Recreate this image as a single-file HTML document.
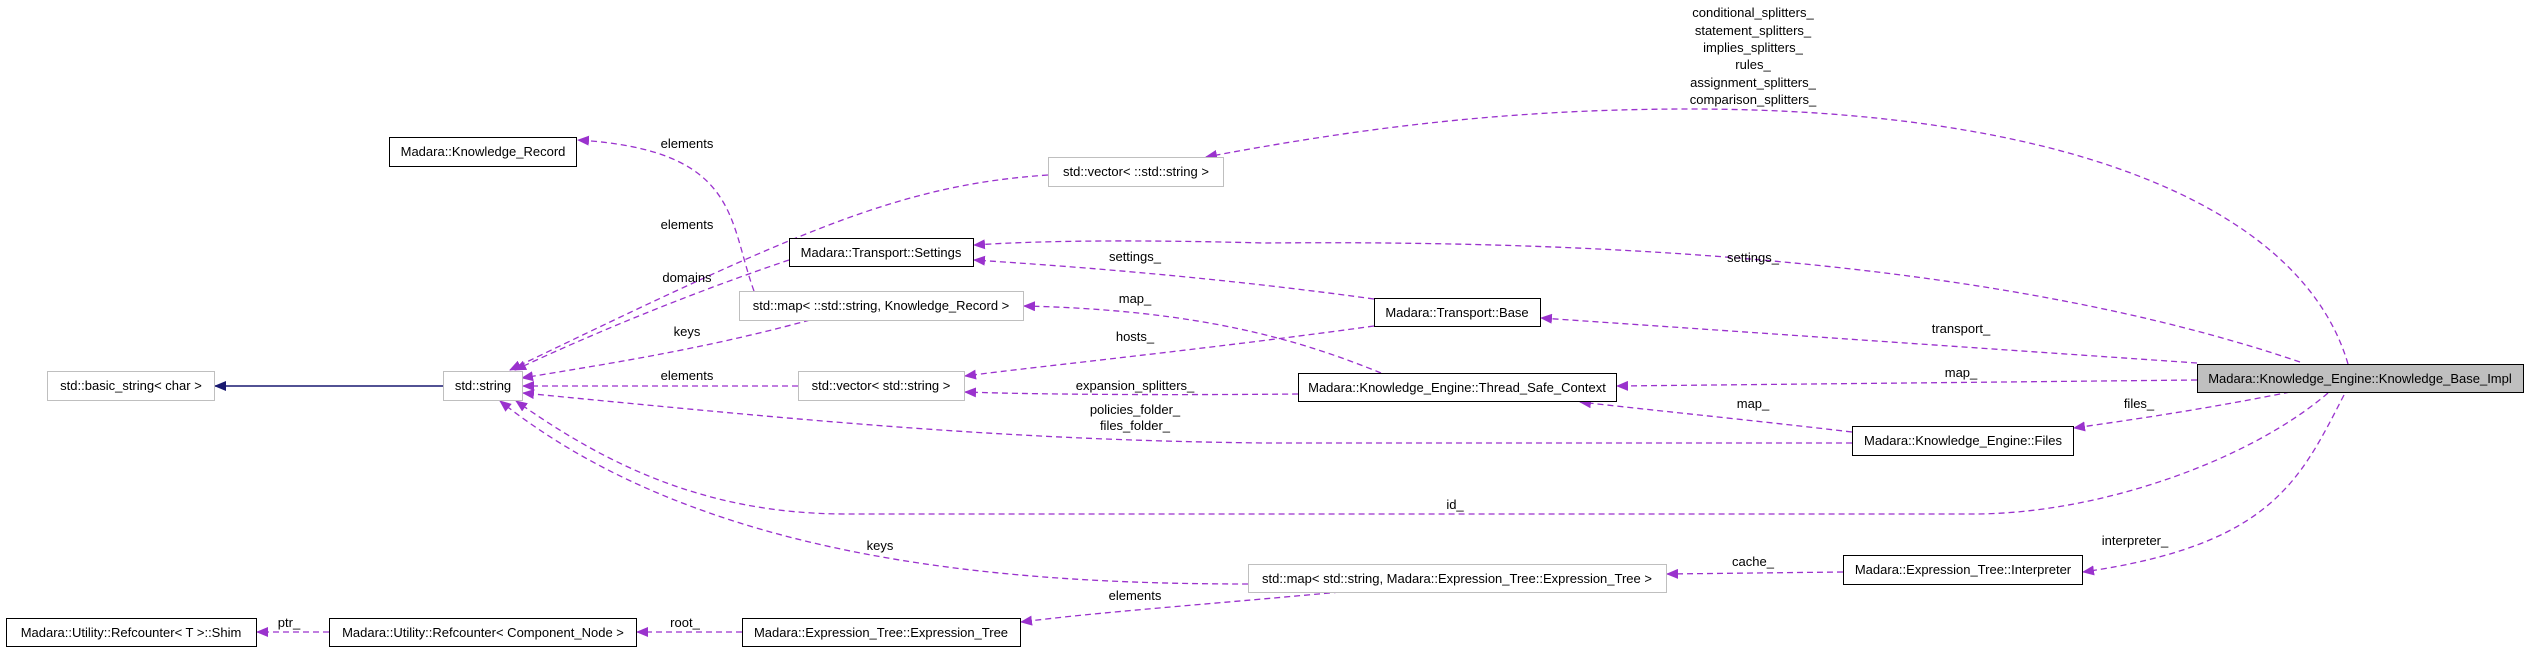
<!DOCTYPE html>
<html><head><meta charset="utf-8"><style>
html,body{margin:0;padding:0;background:#fff;}
svg{display:block;}
text{font-family:"Liberation Sans",sans-serif;font-size:13px;fill:#000;}
</style></head><body>
<svg width="2528" height="649" viewBox="0 0 2528 649" xmlns="http://www.w3.org/2000/svg">
<defs>
<marker id="a" viewBox="0 0 12 10" refX="11" refY="5" markerWidth="12" markerHeight="10" markerUnits="userSpaceOnUse" orient="auto">
<path d="M0,0 L12,5 L0,10 z" fill="#9a32cd"/></marker>
<marker id="b" viewBox="0 0 12 10" refX="11" refY="5" markerWidth="12" markerHeight="10" markerUnits="userSpaceOnUse" orient="auto">
<path d="M0,0 L12,5 L0,10 z" fill="#191970"/></marker>
</defs>
<g fill="none" stroke="#9a32cd" stroke-width="1.3" stroke-dasharray="6,4" marker-end="url(#a)">
<path d="M754,291 C728,220 740,150 578,140"/>
<path d="M1048,175 C900,185 800,230 510,370"/>
<path d="M789,260 C700,290 600,330 515,370"/>
<path d="M810,320 C700,350 600,365 522,378"/>
<path d="M798,386 L523,386"/>
<path d="M1852,443 L1264,443 C1000,440 800,420 523,393"/>
<path d="M2328,393 C2250,460 2100,514 1973,514 L846,514 C700,514 600,460 516,401"/>
<path d="M1248,584 C1000,584 700,560 500,401"/>
<path d="M1340,592 C1200,605 1100,612 1021,622"/>
<path d="M742,632 L637,632"/>
<path d="M329,632 L257,632"/>
<path d="M2348,364 C2300,200 2050,109 1690,109 C1500,109 1350,130 1206,157"/>
<path d="M2300,362 C2000,260 1600,240 1264,243 C1150,240 1050,240 974,245"/>
<path d="M1374,299 C1200,275 1050,265 974,260"/>
<path d="M2197,363 L1541,318"/>
<path d="M1374,326 C1200,350 1050,365 965,376"/>
<path d="M1381,373 C1300,340 1200,310 1024,306"/>
<path d="M1298,394 C1200,395 1050,395 965,392"/>
<path d="M2197,380 L1617,386"/>
<path d="M1852,432 C1750,420 1650,410 1580,402"/>
<path d="M2290,392 C2200,410 2130,420 2074,428"/>
<path d="M2344,395 C2300,480 2272,545 2083,572"/>
<path d="M1843,572 L1667,574"/>
</g>
<path d="M443,386 L215,386" stroke="#191970" stroke-width="1.5" fill="none" marker-end="url(#b)"/>
<g stroke-width="1">
<rect x="389.5" y="137.5" width="187" height="29" fill="#fff" stroke="#000"/>
<rect x="1048.5" y="157.5" width="175" height="29" fill="#fff" stroke="#bfbfbf"/>
<rect x="789.5" y="238.5" width="184" height="28" fill="#fff" stroke="#000"/>
<rect x="739.5" y="291.5" width="284" height="29" fill="#fff" stroke="#bfbfbf"/>
<rect x="47.5" y="371.5" width="167" height="29" fill="#fff" stroke="#bfbfbf"/>
<rect x="443.5" y="371.5" width="79" height="29" fill="#fff" stroke="#bfbfbf"/>
<rect x="798.5" y="371.5" width="166" height="29" fill="#fff" stroke="#bfbfbf"/>
<rect x="6.5" y="618.5" width="250" height="28" fill="#fff" stroke="#000"/>
<rect x="329.5" y="618.5" width="307" height="28" fill="#fff" stroke="#000"/>
<rect x="742.5" y="618.5" width="278" height="28" fill="#fff" stroke="#000"/>
<rect x="1248.5" y="564.5" width="418" height="28" fill="#fff" stroke="#bfbfbf"/>
<rect x="1374.5" y="298.5" width="166" height="28" fill="#fff" stroke="#000"/>
<rect x="1298.5" y="373.5" width="318" height="28" fill="#fff" stroke="#000"/>
<rect x="2197.5" y="364.5" width="326" height="28" fill="#bfbfbf" stroke="#000"/>
<rect x="1852.5" y="426.5" width="221" height="29" fill="#fff" stroke="#000"/>
<rect x="1843.5" y="555.5" width="239" height="29" fill="#fff" stroke="#000"/>
</g>
<g text-anchor="middle">
<text x="483" y="156">Madara::Knowledge_Record</text>
<text x="1136" y="176">std::vector&lt; ::std::string &gt;</text>
<text x="881" y="257">Madara::Transport::Settings</text>
<text x="881" y="310">std::map&lt; ::std::string, Knowledge_Record &gt;</text>
<text x="131" y="390">std::basic_string&lt; char &gt;</text>
<text x="483" y="390">std::string</text>
<text x="881" y="390">std::vector&lt; std::string &gt;</text>
<text x="131" y="637">Madara::Utility::Refcounter&lt; T &gt;::Shim</text>
<text x="483" y="637">Madara::Utility::Refcounter&lt; Component_Node &gt;</text>
<text x="881" y="637">Madara::Expression_Tree::Expression_Tree</text>
<text x="1457" y="583">std::map&lt; std::string, Madara::Expression_Tree::Expression_Tree &gt;</text>
<text x="1457" y="317">Madara::Transport::Base</text>
<text x="1457" y="392">Madara::Knowledge_Engine::Thread_Safe_Context</text>
<text x="2360" y="383">Madara::Knowledge_Engine::Knowledge_Base_Impl</text>
<text x="1963" y="445">Madara::Knowledge_Engine::Files</text>
<text x="1963" y="574">Madara::Expression_Tree::Interpreter</text>

<text x="1753" y="17">conditional_splitters_</text>
<text x="1753" y="35">statement_splitters_</text>
<text x="1753" y="52">implies_splitters_</text>
<text x="1753" y="69">rules_</text>
<text x="1753" y="87">assignment_splitters_</text>
<text x="1753" y="104">comparison_splitters_</text>
<text x="1753" y="262">settings_</text>
<text x="1961" y="333">transport_</text>
<text x="1961" y="377">map_</text>
<text x="1753" y="408">map_</text>
<text x="2139" y="408">files_</text>
<text x="1455" y="509">id_</text>
<text x="2135" y="545">interpreter_</text>
<text x="1753" y="566">cache_</text>
<text x="687" y="148">elements</text>
<text x="687" y="229">elements</text>
<text x="687" y="282">domains</text>
<text x="687" y="336">keys</text>
<text x="687" y="380">elements</text>
<text x="1135" y="261">settings_</text>
<text x="1135" y="303">map_</text>
<text x="1135" y="341">hosts_</text>
<text x="1135" y="390">expansion_splitters_</text>
<text x="1135" y="414">policies_folder_</text>
<text x="1135" y="430">files_folder_</text>
<text x="880" y="550">keys</text>
<text x="1135" y="600">elements</text>
<text x="289" y="627">ptr_</text>
<text x="685" y="627">root_</text>
</g>
</svg>
</body></html>
